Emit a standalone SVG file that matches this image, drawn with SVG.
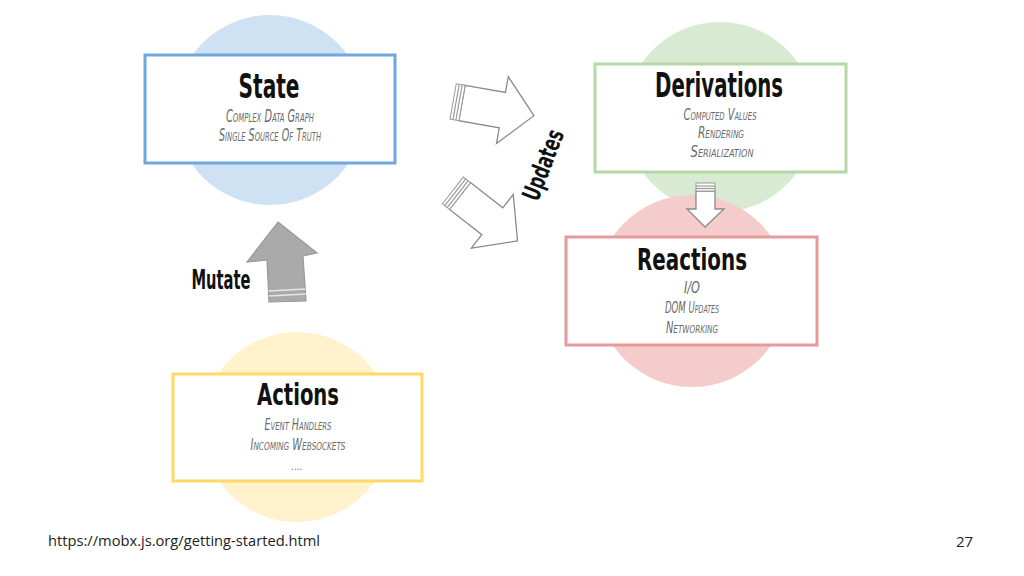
<svg xmlns="http://www.w3.org/2000/svg" width="1024" height="576" viewBox="0 0 1024 576">
<style>
.box{fill:#fff;stroke-width:3}
.title{font-family:"Liberation Sans Narrow","DejaVu Sans Condensed","Liberation Sans",sans-serif;font-weight:bold;fill:#111;text-anchor:middle}
.sub{font-family:"Liberation Sans Narrow","DejaVu Sans Condensed","Liberation Sans",sans-serif;font-style:italic;font-variant:small-caps;fill:#6a6a6a;text-anchor:middle}
.arr{fill:#fff;stroke:#8a8a8a;stroke-width:1.3;stroke-linejoin:miter}
.str{stroke:#999;stroke-width:1.2}
.foot{font-family:"Open Sans","Noto Sans",sans-serif;font-size:15px;fill:#222}
</style>
<rect width="1024" height="576" fill="#fff"/>
<g id="circles">
<circle cx="270" cy="110" r="95" fill="#cfe2f3"/>
<circle cx="720" cy="117" r="95" fill="#d9ead3"/>
<circle cx="692" cy="291" r="96" fill="#f4cccc"/>
<circle cx="297" cy="427" r="95" fill="#fff2cc"/>
</g>
<g id="connectors">
<g id="mutate-arrow">
<polygon points="278,222 317,253 303,256 306,301 269,302 267,260 247,262" fill="#aaa" stroke="#999" stroke-width="1.2"/>
<line x1="268.5" y1="291" x2="305.5" y2="289" stroke="#e6e6e6" stroke-width="1.5"/>
<line x1="268.7" y1="296" x2="305.7" y2="294" stroke="#e6e6e6" stroke-width="1.5"/>
</g>
<g id="updates-arrow-1" transform="translate(462,103) rotate(10)">
<polygon class="arr" points="0,-18 41,-18 41,-34 73,0 41,34 41,18 0,18"/>
<rect x="-9" y="-18" width="9" height="36" fill="#fff" stroke="#999" stroke-width="1"/>
<line class="str" x1="-6" y1="-18" x2="-6" y2="18"/>
<line class="str" x1="-3" y1="-18" x2="-3" y2="18"/>
</g>
<g id="updates-arrow-2" transform="translate(460,196) rotate(38)">
<polygon class="arr" points="0,-17 41,-17 41,-34 73,0 41,34 41,17 0,17"/>
<rect x="-9" y="-17" width="9" height="34" fill="#fff" stroke="#999" stroke-width="1"/>
<line class="str" x1="-6" y1="-17" x2="-6" y2="17"/>
<line class="str" x1="-3" y1="-17" x2="-3" y2="17"/>
</g>
<g id="derive-arrow">
<polygon class="arr" points="696,191 715,191 715,209 724,209 705,227 687,209 696,209"/>
<rect x="696" y="183" width="19" height="8" fill="#fff" stroke="#999" stroke-width="1"/>
<line class="str" x1="696" y1="186" x2="715" y2="186"/>
<line class="str" x1="696" y1="188.5" x2="715" y2="188.5"/>
</g>
<text x="0" y="0" transform="translate(551,168) rotate(-69)" class="title" font-size="25" textLength="74" lengthAdjust="spacingAndGlyphs">Updates</text>
<text x="221" y="289" class="title" font-size="26" textLength="59" lengthAdjust="spacingAndGlyphs">Mutate</text>
</g>
<g id="state">
<rect class="box" x="145" y="55" width="250" height="108" stroke="#6fa8dc"/>
<text x="269" y="98" class="title" font-size="34" textLength="61" lengthAdjust="spacingAndGlyphs">State</text>
<text x="270" y="122" class="sub" font-size="17" textLength="88" lengthAdjust="spacingAndGlyphs">Complex Data Graph</text>
<text x="270" y="141" class="sub" font-size="17" textLength="102" lengthAdjust="spacingAndGlyphs">Single Source Of Truth</text>
</g>
<g id="derivations">
<rect class="box" x="595" y="64" width="251" height="108" stroke="#b6d7a8"/>
<text x="719" y="97" class="title" font-size="33" textLength="128" lengthAdjust="spacingAndGlyphs">Derivations</text>
<text x="720" y="120" class="sub" font-size="16" textLength="73" lengthAdjust="spacingAndGlyphs">Computed Values</text>
<text x="721" y="138" class="sub" font-size="16" textLength="46" lengthAdjust="spacingAndGlyphs">Rendering</text>
<text x="722" y="157" class="sub" font-size="16" textLength="63" lengthAdjust="spacingAndGlyphs">Serialization</text>
</g>
<g id="reactions">
<rect class="box" x="566" y="237" width="251" height="108" stroke="#ea9999"/>
<text x="692" y="270" class="title" font-size="30" textLength="110" lengthAdjust="spacingAndGlyphs">Reactions</text>
<text x="692" y="293" class="sub" font-size="15" textLength="16" lengthAdjust="spacingAndGlyphs">I/O</text>
<text x="692" y="313" class="sub" font-size="15" textLength="54" lengthAdjust="spacingAndGlyphs">DOM Updates</text>
<text x="692" y="333" class="sub" font-size="15" textLength="52" lengthAdjust="spacingAndGlyphs">Networking</text>
</g>
<g id="actions">
<rect class="box" x="173" y="374" width="249" height="107" stroke="#ffd966"/>
<text x="298" y="405" class="title" font-size="30" textLength="82" lengthAdjust="spacingAndGlyphs">Actions</text>
<text x="298" y="430" class="sub" font-size="15" textLength="67" lengthAdjust="spacingAndGlyphs">Event Handlers</text>
<text x="298" y="450" class="sub" font-size="15" textLength="95" lengthAdjust="spacingAndGlyphs">Incoming Websockets</text>
<text x="297" y="470" class="sub" font-size="10">....</text>
</g>
<g id="footer">
<text x="48" y="546" class="foot" textLength="272" lengthAdjust="spacingAndGlyphs">https://mobx.js.org/getting-started.html</text>
<text x="956" y="547" class="foot">27</text>
</g>
</svg>
